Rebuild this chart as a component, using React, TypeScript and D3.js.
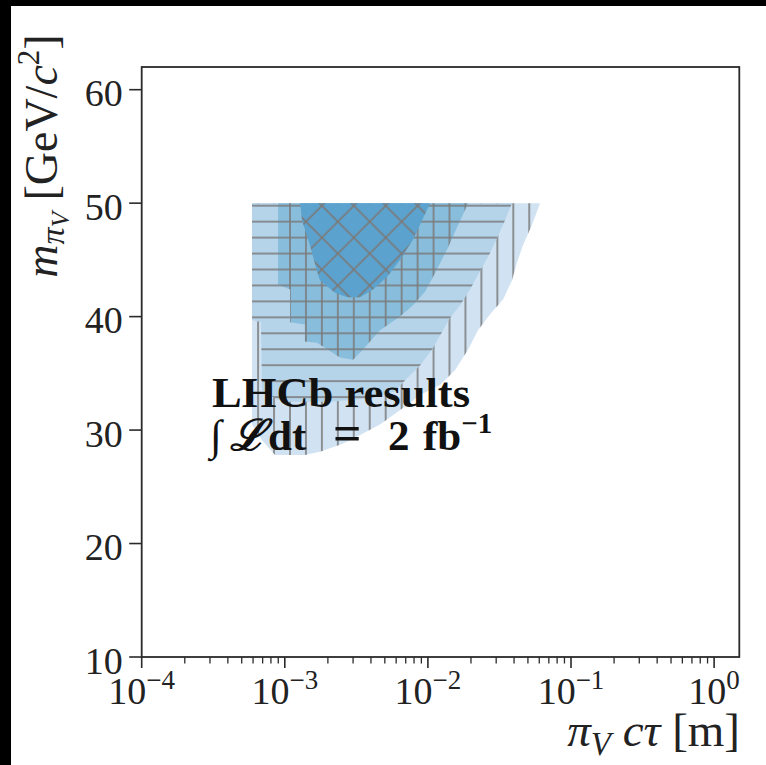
import React from 'react';
import * as d3 from 'd3';

// ---------- data ----------
const massTicks = [10, 20, 30, 40, 50, 60];
const ctauMajorTicks = [1e-4, 1e-3, 1e-2, 1e-1, 1];
const ctauExponents = ['−4', '−3', '−2', '−1', '0'];

// contour bands: [cτ (m), m_πV (GeV/c²)], outermost first
const band1: [number, number][] = [
  [5.9e-4, 50], [6.08e-2, 50], [5.34e-2, 48.1], [4.62e-2, 46.3], [4.2e-2, 44.8],
  [3.87e-2, 43.2], [3.35e-2, 41.5], [2.72e-2, 40.2], [2.24e-2, 38.8], [1.91e-2, 37.1],
  [1.55e-2, 35.3], [1.22e-2, 34.0], [8.81e-3, 33.1], [7.14e-3, 32.2], [5.7e-3, 31.3],
  [4.62e-3, 30.5], [2.86e-3, 29.1], [2.43e-3, 28.7], [1.76e-3, 28.1], [1.38e-3, 27.8],
  [8.55e-4, 27.8], [6.93e-4, 29.1], [5.9e-4, 30.5],
];
const band2: [number, number][] = [
  [5.9e-4, 50], [3.87e-2, 50], [3.46e-2, 48.5], [3.04e-2, 46.9], [2.67e-2, 45.4],
  [2.31e-2, 44.0], [1.97e-2, 42.4], [1.68e-2, 41.0], [1.43e-2, 39.9], [1.25e-2, 38.6],
  [1.07e-2, 37.1], [8.81e-3, 35.7], [6.92e-3, 34.4], [5.89e-3, 33.4], [3.94e-3, 32.8],
  [2.07e-3, 32.5], [1.09e-3, 32.5], [8.83e-4, 32.7], [6.93e-4, 33.5], [6.82e-4, 39.5],
  [5.9e-4, 39.7],
];
const band3: [number, number][] = [
  [8.97e-4, 50], [1.91e-2, 50], [1.63e-2, 48.1], [1.36e-2, 45.9], [1.14e-2, 44.0],
  [9.55e-3, 42.2], [7.87e-3, 41.0], [6.38e-3, 40.0], [4.62e-3, 38.8], [3.52e-3, 37.1],
  [3.0e-3, 36.2], [2.43e-3, 36.4], [2.17e-3, 36.8], [1.68e-3, 37.7], [1.38e-3, 37.8],
  [1.38e-3, 39.3], [1.09e-3, 39.5], [1.09e-3, 42.4], [8.97e-4, 42.8],
];
const band4: [number, number][] = [
  [1.28e-3, 50], [1.035e-2, 50], [7.87e-3, 46.8], [6.38e-3, 45.0], [5.18e-3, 43.5],
  [4.13e-3, 42.4], [3.36e-3, 41.7], [2.72e-3, 41.7], [2.24e-3, 42.1], [1.76e-3, 43.2],
  [1.68e-3, 44.0], [1.5e-3, 46.3], [1.32e-3, 48.5],
];

const W = 766, H = 765;
const left = 141.7, right = 739.3, top = 67, bottom = 657;
const P = 15.95;

export default function App() {
  const x = d3.scaleLog().domain([1e-4, 1.5]).range([left, right]);
  const y = d3.scaleLinear().domain([10, 62]).range([bottom, top]);
  const line = d3.line<[number, number]>().x(d => x(d[0])).y(d => y(d[1]));

  const minor: number[] = [];
  for (let e = -4; e <= 0; e++) {
    for (let k = 2; k <= 9; k++) {
      const v = k * Math.pow(10, e);
      if (v <= 1.5) minor.push(v);
    }
  }

  const bands = [
    { pts: band1, fill: '#d1e3f3', hatch: 'hv' },
    { pts: band2, fill: '#b5d4e9', hatch: 'hh' },
    { pts: band3, fill: '#88bedc', hatch: 'hp' },
    { pts: band4, fill: '#5ba2cf', hatch: 'hx' },
  ];

  const serif = "'Liberation Serif', 'DejaVu Serif', serif";
  const hs = '#7a7a7a', hw = 1.6;
  const Q = 2 * P;

  return (
    <svg width={W} height={H} style={{ position: 'absolute', left: 0, top: 0, background: '#fff' }} fontFamily={serif}>
      <defs>
        <pattern id="hv" patternUnits="userSpaceOnUse" width={P} height={P} x={2.9 - P / 2} y={0}>
          <line x1={P / 2} y1={0} x2={P / 2} y2={P} stroke={hs} strokeWidth={hw} />
        </pattern>
        <pattern id="hh" patternUnits="userSpaceOnUse" width={P} height={P} x={0} y={14.3 - P / 2}>
          <line x1={0} y1={P / 2} x2={P} y2={P / 2} stroke={hs} strokeWidth={hw} />
        </pattern>
        <pattern id="hp" patternUnits="userSpaceOnUse" width={P} height={P} x={2.9 - P / 2} y={14.3 - P / 2}>
          <line x1={P / 2} y1={0} x2={P / 2} y2={P} stroke={hs} strokeWidth={hw} />
          <line x1={0} y1={P / 2} x2={P} y2={P / 2} stroke={hs} strokeWidth={hw} />
        </pattern>
        <pattern id="hx" patternUnits="userSpaceOnUse" width={Q} height={Q} x={2.9} y={14.3}>
          <path d={`M0,0L${Q},${Q}M0,${Q}L${Q},0`} stroke={hs} strokeWidth={hw} fill="none" />
        </pattern>
      </defs>
      <rect x={0} y={0} width={W} height={H} fill="#fff" />
      <rect x={0} y={0} width={W} height={6} fill="#000" />
      <rect x={0} y={0} width={11} height={H} fill="#000" />

      {bands.map((b, i) => (
        <g key={i}>
          <path d={line(b.pts) + 'Z'} fill={b.fill} />
          <path d={line(b.pts) + 'Z'} fill={`url(#${b.hatch})`} />
        </g>
      ))}

      {/* frame */}
      <rect x={left} y={top} width={right - left} height={bottom - top} fill="none" stroke="#2a2a2a" strokeWidth={1.8} />

      {/* y ticks */}
      {massTicks.map(t => (
        <g key={'y' + t}>
          <line x1={left - 12.5} x2={left} y1={y(t)} y2={y(t)} stroke="#2a2a2a" strokeWidth={1.6} />
          <text x={left - 19} y={y(t) + 16.5} textAnchor="end" fontSize={38} fill="#222">{t}</text>
        </g>
      ))}

      {/* x ticks */}
      {ctauMajorTicks.map((t, i) => (
        <g key={'x' + i}>
          <line x1={x(t)} x2={x(t)} y1={bottom} y2={bottom + 11} stroke="#2a2a2a" strokeWidth={1.6} />
          <text x={x(t)} y={704} textAnchor="middle" fontSize={38} fill="#222">
            10<tspan dy={-15} fontSize={27}>{ctauExponents[i]}</tspan>
          </text>
        </g>
      ))}
      {minor.map((t, i) => (
        <line key={'m' + i} x1={x(t)} x2={x(t)} y1={bottom} y2={bottom + 6.5} stroke="#2a2a2a" strokeWidth={1.3} />
      ))}

      {/* axis labels */}
      <text x={740} y={746} textAnchor="end" fontSize={47} fill="#222">
        <tspan fontStyle="italic">π</tspan>
        <tspan fontStyle="italic" fontSize={33} dy={9}>V</tspan>
        <tspan fontStyle="italic" dy={-9}>  cτ  </tspan>
        <tspan>[m]</tspan>
      </text>
      <g transform="translate(57,156) rotate(-90)">
        <text x={0} y={0} textAnchor="middle" fontSize={46} fill="#222">
          <tspan fontStyle="italic">m</tspan>
          <tspan fontStyle="italic" fontSize={34} dy={7}>π</tspan>
          <tspan fontStyle="italic" fontSize={25} dy={5}>V</tspan>
          <tspan dy={-12}>  [GeV/</tspan>
          <tspan fontStyle="italic">c</tspan>
          <tspan fontSize={31} dy={-18}>2</tspan>
          <tspan dy={18}>]</tspan>
        </text>
      </g>

      {/* annotation */}
      <text x={212} y={407} fontSize={43} fontWeight="bold" fill="#111" textLength={258} lengthAdjust="spacingAndGlyphs">LHCb results</text>
      <text y={450} fontSize={43} fontWeight="bold" fill="#111">
        <tspan x={210} fontWeight="normal" fontStyle="italic">∫</tspan>
        <tspan x={230} fontStyle="italic">ℒ</tspan>
        <tspan x={268}>dt</tspan>
        <tspan x={333} fontSize={50}>=</tspan>
        <tspan x={388}>2</tspan>
        <tspan x={423}>fb</tspan>
        <tspan fontSize={29} dy={-17}>−1</tspan>
      </text>
    </svg>
  );
}
